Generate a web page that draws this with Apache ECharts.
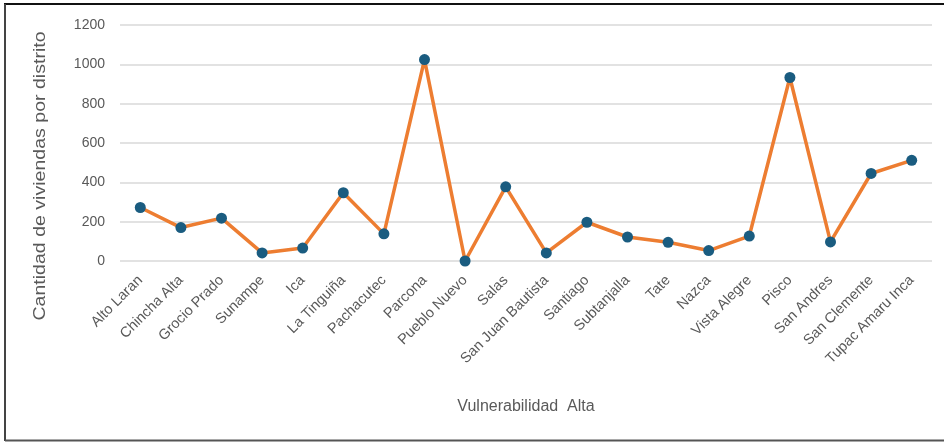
<!DOCTYPE html>
<html>
<head>
<meta charset="utf-8">
<script src="https://cdn.jsdelivr.net/npm/echarts@6/dist/echarts.min.js"></script>
<style>
  html, body { margin: 0; padding: 0; background: #ffffff; }
  #chart { width: 944px; height: 442px; }
</style>
</head>
<body>
<div id="chart"></div>
<script>
// Districts with high vulnerability and their dwelling counts
const districts = [
  'Alto Laran', 'Chincha Alta', 'Grocio Prado', 'Sunampe', 'Ica',
  'La Tinguiña', 'Pachacutec', 'Parcona', 'Pueblo Nuevo', 'Salas',
  'San Juan Bautista', 'Santiago', 'Subtanjalla', 'Tate', 'Nazca',
  'Vista Alegre', 'Pisco', 'San Andres', 'San Clemente', 'Tupac Amaru Inca'
];
const viviendas = [
  272, 170, 218, 41, 66,
  347, 138, 1024, 0, 377,
  41, 197, 122, 95, 53,
  127, 933, 97, 445, 512
];
const yTicks = { min: 0, max: 1200, interval: 200 };

const labelColor = '#595959';
const font = 'Liberation Sans, Arial, sans-serif';

const chart = echarts.init(document.getElementById('chart'), null, { renderer: 'canvas' });
chart.setOption({
  animation: false,
  backgroundColor: '#ffffff',
  grid: { left: 120, right: 12, top: 25, bottom: 181, containLabel: false },
  xAxis: {
    type: 'category',
    data: districts,
    boundaryGap: true,
    axisLine: { show: false },
    axisTick: { show: false },
    axisLabel: {
      rotate: 45,
      interval: 0,
      margin: 17,
      color: labelColor,
      fontFamily: font,
      fontSize: 14.5
    },
    name: 'Vulnerabilidad  Alta',
    nameLocation: 'middle',
    nameGap: 138,
    nameTextStyle: { color: labelColor, fontFamily: font, fontSize: 16 }
  },
  yAxis: {
    type: 'value',
    min: yTicks.min,
    max: yTicks.max,
    interval: yTicks.interval,
    axisLine: { show: false },
    axisTick: { show: false },
    axisLabel: {
      color: labelColor, fontFamily: font, fontSize: 14, margin: 15,
      formatter: v => String(v)
    },
    splitLine: { lineStyle: { color: '#d9d9d9', width: 1.5 } }
  },
  series: [{
    type: 'line',
    data: viviendas,
    symbol: 'circle',
    symbolSize: 11,
    lineStyle: { color: '#ED7D31', width: 3.5 },
    itemStyle: { color: '#1A5C80' },
    z: 3
  }],
  graphic: [
    {
      type: 'text',
      x: 40, y: 176,
      rotation: Math.PI / 2,
      scaleX: 1.15,
      style: {
        text: 'Cantidad de viviendas por distrito',
        fill: labelColor,
        font: '17px Liberation Sans, Arial, sans-serif',
        textAlign: 'center',
        textVerticalAlign: 'middle'
      }
    },
    // frame lines around the figure
    { type: 'line', shape: { x1: 4, y1: 4, x2: 944, y2: 4 }, style: { stroke: '#111111', lineWidth: 2 } },
    { type: 'line', shape: { x1: 5, y1: 4, x2: 5, y2: 441 }, style: { stroke: '#444444', lineWidth: 2 } },
    { type: 'line', shape: { x1: 5, y1: 440.5, x2: 944, y2: 440.5 }, style: { stroke: '#555555', lineWidth: 2 } }
  ]
});
</script>
</body>
</html>
